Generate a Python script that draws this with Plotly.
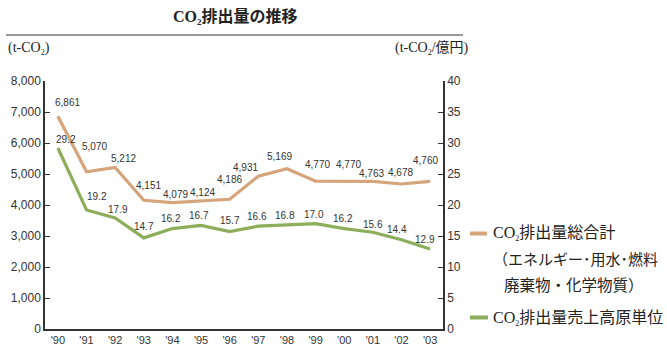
import plotly.graph_objects as go

# Fiscal years and the two emission series
years = ["'90", "'91", "'92", "'93", "'94", "'95", "'96", "'97",
         "'98", "'99", "'00", "'01", "'02", "'03"]
total_emissions = [6861, 5070, 5212, 4151, 4079, 4124, 4186, 4931,
                   5169, 4770, 4770, 4763, 4678, 4760]          # t-CO2
intensity = [29.2, 19.2, 17.9, 14.7, 16.2, 16.7, 15.7, 16.6,
             16.8, 17.0, 16.2, 15.6, 14.4, 12.9]                # t-CO2 / 億円

# label placement (pixel offsets from each point)
total_dx = [10, 8, 8, 5, 3, 1, 0, -13, -7, 2, 4, -1, -1, -5]
total_dy = [14, 25, 9, 15, 8, 9, 20, 9, 12, 17, 17, 8, 11, 21]
inten_dx = [8, 10, 3, 0, -1, -2, 0, -1, -2, -2, -1, 0, -4, -5]
inten_dy = [8, 13, 9, 11, 10, 10, 11, 10, 9, 9, 10, 8, 10, 10]

TAN = "#d6a47b"
GREEN = "#8cae5a"
AXIS = "#333333"
SANS = "Liberation Sans, Arial, sans-serif"
SERIF = "Liberation Serif, Noto Sans CJK JP, serif"

W, H = 667, 350
L, R, T, B = 45, 224, 81, 21
PW, PH = W - L - R, H - T - B


def px(x):
    return (x - L) / PW


def py(y):
    return (H - B - y) / PH


def co2(size):
    return f"CO<sub><span style='font-size:{size}px'>2</span></sub>"


idx = list(range(len(years)))

fig = go.Figure()
fig.add_trace(go.Scatter(x=idx, y=total_emissions, mode="lines",
                         line=dict(color=TAN, width=3.2), yaxis="y",
                         showlegend=False, hoverinfo="skip"))
fig.add_trace(go.Scatter(x=idx, y=intensity, mode="lines",
                         line=dict(color=GREEN, width=3.2), yaxis="y2",
                         showlegend=False, hoverinfo="skip"))

ann = []
for i, v in enumerate(total_emissions):
    ann.append(dict(x=i, y=v, xref="x", yref="y", text=f"{v:,}",
                    showarrow=False, xshift=total_dx[i], yshift=total_dy[i],
                    font=dict(family=SANS, size=10, color=AXIS)))
for i, v in enumerate(intensity):
    ann.append(dict(x=i, y=v, xref="x", yref="y2", text=f"{v:.1f}",
                    showarrow=False, xshift=inten_dx[i], yshift=inten_dy[i],
                    font=dict(family=SANS, size=10, color=AXIS)))


def paper_text(x, y, text, size, anchor="left"):
    return dict(x=px(x), y=py(y), xref="paper", yref="paper", xanchor=anchor,
                yanchor="middle", text=text, showarrow=False,
                font=dict(family=SERIF, size=size, color="#222"))


# title, unit labels
ann.append(paper_text(235, 18, f"<b>{co2(9)}排出量の推移</b>", 16, "center"))
ann.append(paper_text(6, 49, f"(t-{co2(8)})", 14))
ann.append(paper_text(471, 49, f"(t-{co2(8)}/億円)", 14, "right"))

# legend text
ann.append(paper_text(491, 233, f"{co2(8)}排出量総合計", 16))
ann.append(paper_text(491, 259, "（エネルギー･用水･燃料", 15))
ann.append(paper_text(502, 285, "廃棄物・化学物質）", 15.5))
ann.append(paper_text(491, 318, f"{co2(8)}排出量売上高原単位", 16))

shapes = [
    dict(type="line", xref="paper", yref="paper", x0=px(6), x1=px(463),
         y0=py(35), y1=py(35), line=dict(color="#333", width=1)),
    dict(type="line", xref="paper", yref="paper", x0=px(470), x1=px(487),
         y0=py(233.5), y1=py(233.5), line=dict(color=TAN, width=4)),
    dict(type="line", xref="paper", yref="paper", x0=px(470), x1=px(488),
         y0=py(317.5), y1=py(317.5), line=dict(color=GREEN, width=4)),
]

fig.update_layout(
    width=W, height=H,
    margin=dict(l=L, r=R, t=T, b=B, autoexpand=False),
    paper_bgcolor="white", plot_bgcolor="white",
    annotations=ann, shapes=shapes,
    xaxis=dict(range=[-0.45, 13.45], tickmode="array", tickvals=idx,
               ticktext=years, showgrid=False, zeroline=False, automargin=False,
               showline=True, linecolor=AXIS, linewidth=1.5, ticks="",
               tickfont=dict(family=SANS, size=11, color=AXIS)),
    yaxis=dict(range=[0, 8000], dtick=1000, tickformat=",d", showgrid=False,
               zeroline=False, showline=True, linecolor=AXIS, linewidth=1.5,
               ticks="inside", ticklen=5, tickcolor=AXIS, automargin=False,
               tickfont=dict(family=SANS, size=12, color=AXIS)),
    yaxis2=dict(range=[0, 40], dtick=5, overlaying="y", side="right",
                showgrid=False, zeroline=False, showline=True, linecolor=AXIS,
                linewidth=1.5, ticks="inside", ticklen=5, tickcolor=AXIS,
                automargin=False,
                tickfont=dict(family=SANS, size=12, color=AXIS)),
)

fig.write_html("out.html")
